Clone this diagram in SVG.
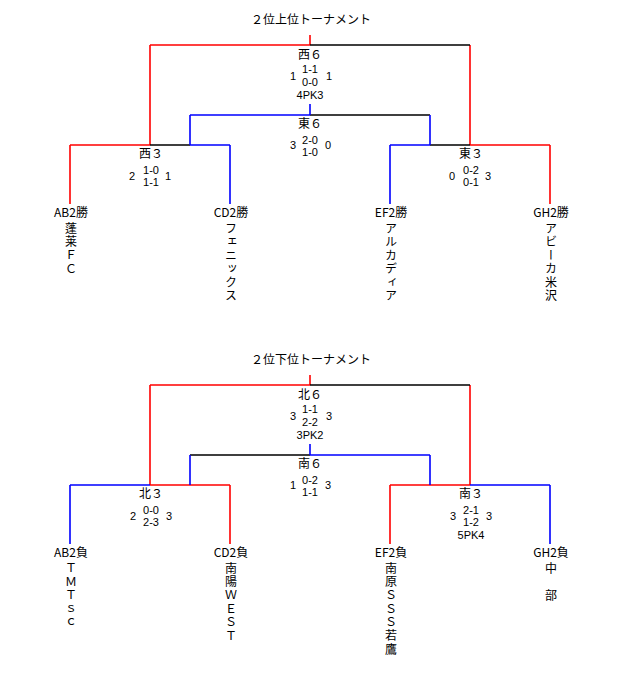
<svg xmlns="http://www.w3.org/2000/svg" width="640" height="700" viewBox="0 0 640 700">
<style>
text{font-family:"Noto Sans CJK JP","DejaVu Sans",sans-serif;fill:#000;}
.t{font-size:12px;text-anchor:middle;}
.s{font-family:"Liberation Sans","DejaVu Sans",sans-serif;font-size:11px;text-anchor:middle;}
.n{font-size:12px;writing-mode:vertical-rl;text-orientation:upright;}
.r{stroke:#ff0000;stroke-width:1.6;fill:none;}
.b{stroke:#0000ff;stroke-width:1.6;fill:none;}
.k{stroke:#000;stroke-width:1.4;fill:none;}
</style>
<rect width="640" height="700" fill="#fff"/>
<g id="connectors">
<path class="r" d="M310,35V45M150,45H310M150,45V145M470,45V145M70,145H150M70,145V204M470,145H550M550,145V204"/>
<path class="k" d="M310,45H470M150,145H190M310,115H430M430,145H470"/>
<path class="b" d="M310,104V115M190,115H310M190,115V145M430,115V145M190,145H230M230,145V204M390,145H430M390,145V204"/>
<path class="r" d="M310,375V385M150,385H310M150,385V485M470,385V485M150,485H230M230,485V544M390,485H470M390,485V544"/>
<path class="k" d="M310,385H470M190,455H310"/>
<path class="b" d="M310,444V455M310,455H430M430,455V485M190,455V485M70,485H150M70,485V544M470,485H550M550,485V544"/>
</g>
<g id="title-upper"><text class="t" x="311" y="24">２位上位トーナメント</text></g>
<g id="match-west6">
<text class="t" x="310" y="59">西６</text>
<text class="s" x="310" y="73">1-1</text>
<text class="s" x="310" y="86">0-0</text>
<text class="s" x="310" y="99">4PK3</text>
<text class="s" x="293" y="80">1</text>
<text class="s" x="329" y="80">1</text>
</g>
<g id="match-east6">
<text class="t" x="310" y="128">東６</text>
<text class="s" x="310" y="144">2-0</text>
<text class="s" x="310" y="156">1-0</text>
<text class="s" x="293" y="149">3</text>
<text class="s" x="328" y="149">0</text>
</g>
<g id="match-west3">
<text class="t" x="151" y="158">西３</text>
<text class="s" x="151" y="174">1-0</text>
<text class="s" x="151" y="186">1-1</text>
<text class="s" x="132" y="180">2</text>
<text class="s" x="168" y="180">1</text>
</g>
<g id="match-east3">
<text class="t" x="471" y="158">東３</text>
<text class="s" x="471" y="174">0-2</text>
<text class="s" x="471" y="186">0-1</text>
<text class="s" x="452" y="180">0</text>
<text class="s" x="488" y="180">3</text>
</g>
<g id="team-ab2w"><text class="t" x="71" y="217">AB2勝</text><text class="n" x="71" y="222 235.5 249 262.5">蓬莱ＦＣ</text></g>
<g id="team-cd2w"><text class="t" x="231" y="217">CD2勝</text><text class="n" x="231" y="222 235.5 249 262.5 276 289.5">フェニックス</text></g>
<g id="team-ef2w"><text class="t" x="391" y="217">EF2勝</text><text class="n" x="391" y="222 235.5 249 262.5 276 289.5">アルカディア</text></g>
<g id="team-gh2w"><text class="t" x="551" y="217">GH2勝</text><text class="n" x="551" y="222 235.5 249 262.5 276 289.5">アビーカ米沢</text></g>

<g id="title-lower"><text class="t" x="311" y="364">２位下位トーナメント</text></g>
<g id="match-north6">
<text class="t" x="310" y="399">北６</text>
<text class="s" x="310" y="413">1-1</text>
<text class="s" x="310" y="426">2-2</text>
<text class="s" x="310" y="439">3PK2</text>
<text class="s" x="293" y="420">3</text>
<text class="s" x="329" y="420">3</text>
</g>
<g id="match-south6">
<text class="t" x="310" y="468">南６</text>
<text class="s" x="310" y="484">0-2</text>
<text class="s" x="310" y="496">1-1</text>
<text class="s" x="293" y="489">1</text>
<text class="s" x="328" y="489">3</text>
</g>
<g id="match-north3">
<text class="t" x="151" y="498">北３</text>
<text class="s" x="151" y="514">0-0</text>
<text class="s" x="151" y="526">2-3</text>
<text class="s" x="133" y="520">2</text>
<text class="s" x="169" y="520">3</text>
</g>
<g id="match-south3">
<text class="t" x="471" y="498">南３</text>
<text class="s" x="471" y="514">2-1</text>
<text class="s" x="471" y="526">1-2</text>
<text class="s" x="471" y="539">5PK4</text>
<text class="s" x="453" y="520">3</text>
<text class="s" x="489" y="520">3</text>
</g>
<g id="team-ab2l"><text class="t" x="71" y="557">AB2負</text><text class="n" x="71" y="562 575.5 589 602.5 616">ＴＭＴｓｃ</text></g>
<g id="team-cd2l"><text class="t" x="231" y="557">CD2負</text><text class="n" x="231" y="562 575.5 589 602.5 616 629.5">南陽ＷＥＳＴ</text></g>
<g id="team-ef2l"><text class="t" x="391" y="557">EF2負</text><text class="n" x="391" y="562 575.5 589 602.5 616 629.5 643">南原ＳＳＳ若鷹</text></g>
<g id="team-gh2l"><text class="t" x="551" y="557">GH2負</text><text class="n" x="551" y="562 575.5 589">中　部</text></g>
</svg>
